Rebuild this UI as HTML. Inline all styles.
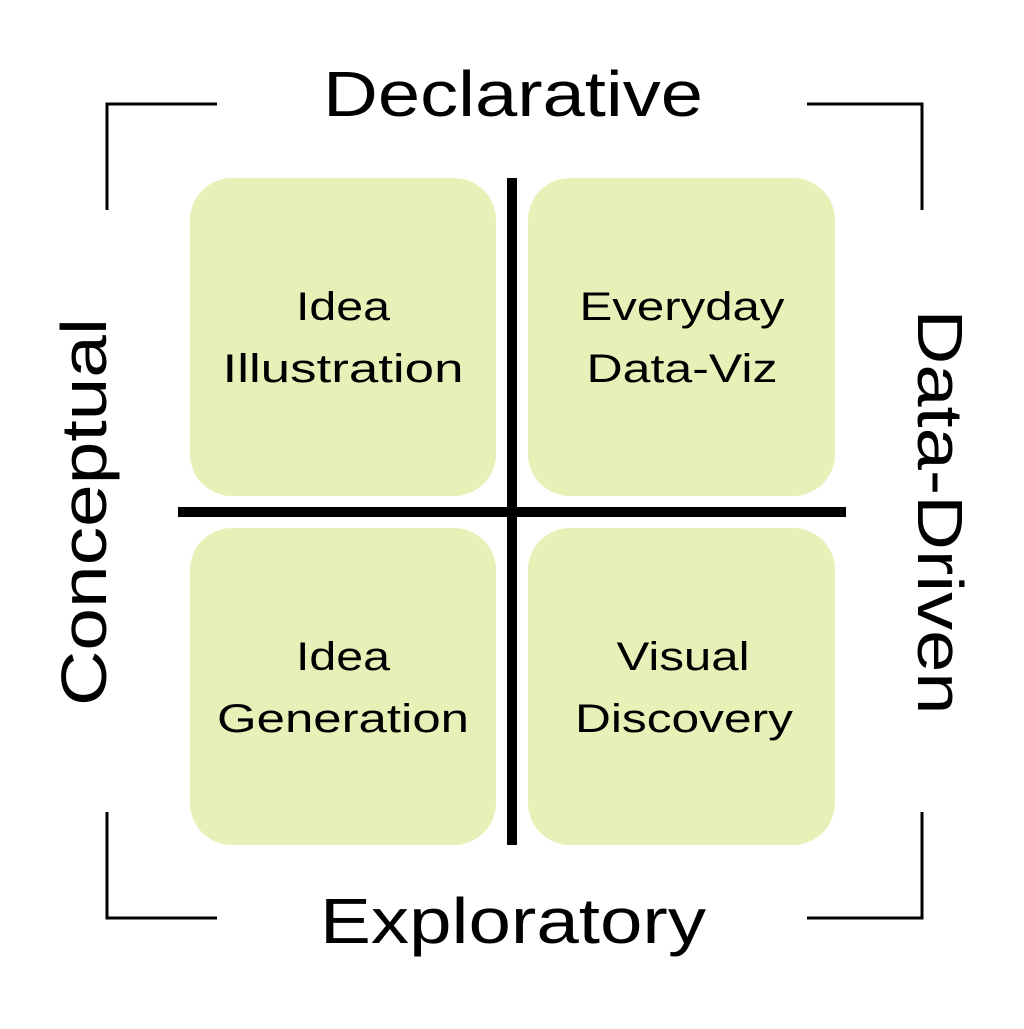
<!DOCTYPE html>
<html><head><style>
body{margin:0;background:#fff;}
svg text{font-family:"Liberation Sans",sans-serif;fill:#000;}
</style></head><body>
<svg width="1024" height="1024" viewBox="0 0 1024 1024" xmlns="http://www.w3.org/2000/svg">
<rect width="1024" height="1024" fill="#fff"/>
<g fill="#e8f0b8">
<rect x="190" y="178" width="306" height="318" rx="42"/>
<rect x="528" y="178" width="307" height="318" rx="42"/>
<rect x="190" y="528" width="306" height="317" rx="42"/>
<rect x="528" y="528" width="307" height="317" rx="42"/>
</g>
<rect x="507" y="178" width="10" height="667" fill="#000"/>
<rect x="178" y="507" width="668" height="10" fill="#000"/>
<g stroke="#000" stroke-width="3" fill="none">
<polyline points="217,104 107,104 107,210"/>
<polyline points="807,104 922,104 922,210"/>
<polyline points="107,812 107,918 217,918"/>
<polyline points="922,812 922,918 807,918"/>
</g>
<g text-anchor="middle" lengthAdjust="spacingAndGlyphs">
<text x="513" y="116" font-size="64" textLength="380" lengthAdjust="spacingAndGlyphs">Declarative</text>
<text x="513" y="943" font-size="64" textLength="386" lengthAdjust="spacingAndGlyphs">Exploratory</text>
<text transform="translate(106,512) rotate(-90)" font-size="64" textLength="388" lengthAdjust="spacingAndGlyphs">Conceptual</text>
<text transform="translate(918,512) rotate(90)" font-size="64" textLength="405" lengthAdjust="spacingAndGlyphs">Data-Driven</text>
<g font-size="40">
<text x="343" y="320" textLength="94" lengthAdjust="spacingAndGlyphs">Idea</text>
<text x="343" y="382" textLength="241" lengthAdjust="spacingAndGlyphs">Illustration</text>
<text x="682" y="320" textLength="205" lengthAdjust="spacingAndGlyphs">Everyday</text>
<text x="682" y="382" textLength="191" lengthAdjust="spacingAndGlyphs">Data-Viz</text>
<text x="343" y="670" textLength="94" lengthAdjust="spacingAndGlyphs">Idea</text>
<text x="343" y="732" textLength="252" lengthAdjust="spacingAndGlyphs">Generation</text>
<text x="683" y="670" textLength="133" lengthAdjust="spacingAndGlyphs">Visual</text>
<text x="684" y="732" textLength="218" lengthAdjust="spacingAndGlyphs">Discovery</text>
</g>
</g>
</svg>
</body></html>
